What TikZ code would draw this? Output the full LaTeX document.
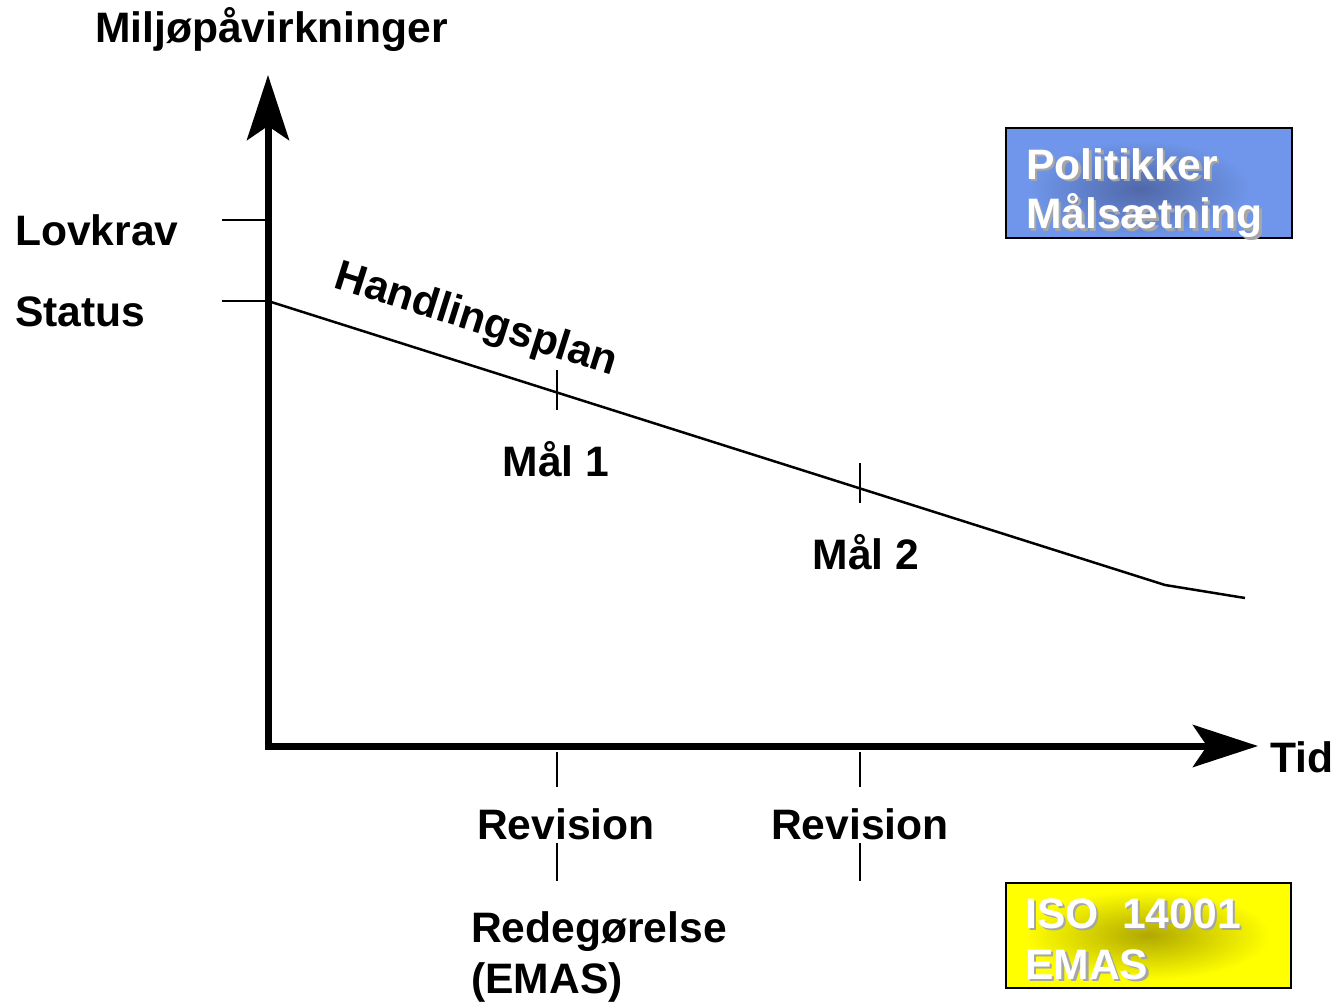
\documentclass[tikz,border=0pt]{standalone}
\usepackage{fontspec}
\setmainfont{Liberation Sans}
\usetikzlibrary{arrows.meta}
\definecolor{boxblue}{HTML}{6F96EA}
\definecolor{boxbluedark}{HTML}{5068A8}
\definecolor{boxyellow}{HTML}{FFFF00}
\definecolor{boxyellowdark}{HTML}{B0A800}
\tikzset{
  lbl/.style={font=\fontsize{42.6}{48}\selectfont\bfseries, inner sep=0pt, text=black},
  axis/.style={line width=7pt, -{Stealth[length=65pt,width=42pt,inset=14pt]}},
  tick/.style={line width=2pt},
  trend/.style={line width=2.5pt},
  wtxt/.style={font=\fontsize{42.6}{48}\selectfont\bfseries, inner sep=0pt, text=white, anchor=base west},
  shtxt/.style={font=\fontsize{42.6}{48}\selectfont\bfseries, inner sep=0pt, text=black!35, anchor=base west},
}
\begin{document}
\begin{tikzpicture}[x=1pt,y=-1pt]
\useasboundingbox (0,0) rectangle (1335,1003);
% axes
\coordinate (top) at (268,75);
\coordinate (origin) at (268,746);
\coordinate (right) at (1258,746);
\draw[axis] (origin) -- (top);
\draw[axis] (264.5,746) -- (right);
% y ticks
\coordinate (lk) at (268,220);
\coordinate (st) at (268,301);
\draw[tick] (222,220) -- (lk);
\draw[tick] (222,301) -- (st);
% trend line
\coordinate (bend) at (1165,585);
\coordinate (end) at (1245,598);
\draw[trend] (st) -- (bend) -- (end);
% ticks on trend line
\draw[tick] (557,370) -- (557,410);
\draw[tick] (860,463) -- (860,503);
% ticks below x-axis
\draw[tick] (557,752) -- (557,787);
\draw[tick] (557,843) -- (557,881);
\draw[tick] (860,752) -- (860,787);
\draw[tick] (860,843) -- (860,881);
% labels
\node[lbl, anchor=base west] (ylab) at (95,43) {Miljøpåvirkninger};
\node[lbl, anchor=base west] (lovkrav) at (15,245) {Lovkrav};
\node[lbl, anchor=base west] (status) at (15,326) {Status};
\node[lbl, rotate=-17.6] (hp) at (476,321) {Handlingsplan};
\node[lbl, anchor=base] (mal1) at (556,476) {Mål 1};
\node[lbl, anchor=base] (mal2) at (866,569) {Mål 2};
\node[lbl, anchor=base] (rev1) at (566,839) {Revision};
\node[lbl, anchor=base] (rev2) at (860,839) {Revision};
\node[lbl, anchor=base west] (rede) at (471,942) {Redegørelse};
\node[lbl, anchor=base west] (emas) at (471,993) {(EMAS)};
\node[lbl, anchor=base west] (tid) at (1270,772) {Tid};
% blue box
\fill[boxblue] (1006,128) rectangle (1292,238);
\shade[inner color=boxbluedark, outer color=boxblue] (1030,140) rectangle (1250,238);
\draw[line width=2.5pt] (1006,128) rectangle (1292,238);
\node[shtxt] at (1028.5,181.5) {Politikker};
\node[wtxt] (pol) at (1026,179) {Politikker};
\node[shtxt] at (1028.5,231.5) {Målsætning};
\node[wtxt] (mals) at (1026,229) {Målsætning};
% yellow box
\fill[boxyellow] (1006,883) rectangle (1291,988);
\shade[inner color=boxyellowdark, outer color=boxyellow] (1025,890) rectangle (1270,980);
\draw[line width=2.5pt] (1006,883) rectangle (1291,988);
\node[shtxt] at (1027.5,930.5) {ISO\ \ 14001};
\node[wtxt] (iso) at (1025,928) {ISO\ \ 14001};
\node[shtxt] at (1027.5,981.5) {EMAS};
\node[wtxt] (emas2) at (1025,979) {EMAS};
\end{tikzpicture}
\end{document}
